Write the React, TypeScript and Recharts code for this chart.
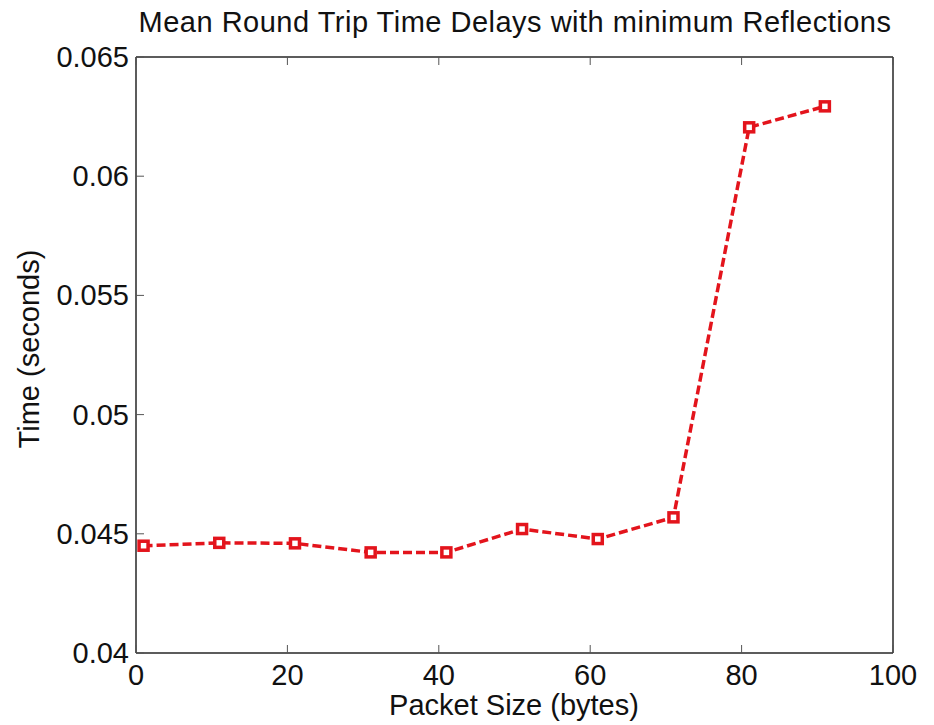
import React from 'react';
import { LineChart, Line, XAxis, YAxis } from 'recharts';

const packetSizes = [1, 11, 21, 31, 41, 51, 61, 71, 81, 91];
const meanDelays = [0.0445, 0.04462, 0.0446, 0.04422, 0.04422, 0.0452, 0.04478, 0.04569, 0.06205, 0.06293];
const xTicks = [0, 20, 40, 60, 80, 100];
const yTicks = [0.04, 0.045, 0.05, 0.055, 0.06, 0.065];
const yTickLabels = ['0.04', '0.045', '0.05', '0.055', '0.06', '0.065'];

const chartData = packetSizes.map((size, i) => ({ size, delay: meanDelays[i] }));

const FONT = '"Liberation Sans", Arial, sans-serif';
const RED = '#e3141c';
const AXIS = '#262626';
const TICK_LEN = 8;
const TICK_FONT = 29;

// MATLAB style: tick marks point into the plot box, labels sit outside
const BottomTick = (props: any) => {
  const { x, y, payload } = props;
  return (
    <g>
      <line x1={x} y1={y} x2={x} y2={y - TICK_LEN} stroke="#555" strokeWidth={1} />
      <text x={x} y={y + 22} textAnchor="middle" dominantBaseline="central" fontSize={TICK_FONT} fill="#111" fontFamily={FONT}>
        {payload.value}
      </text>
    </g>
  );
};

const TopTick = (props: any) => {
  const { x, y } = props;
  return <line x1={x} y1={y} x2={x} y2={y + TICK_LEN} stroke="#555" strokeWidth={1} />;
};

const LeftTick = (props: any) => {
  const { x, y, payload, index } = props;
  return (
    <g>
      <line x1={x} y1={y} x2={x + TICK_LEN} y2={y} stroke="#555" strokeWidth={1} />
      <text x={x - 7} y={y} textAnchor="end" dominantBaseline="central" fontSize={TICK_FONT} fill="#111" fontFamily={FONT}>
        {yTickLabels[index] ?? payload.value}
      </text>
    </g>
  );
};

const RightTick = (props: any) => {
  const { x, y } = props;
  return <line x1={x} y1={y} x2={x - TICK_LEN} y2={y} stroke="#555" strokeWidth={1} />;
};

const SquareDot = (props: any) => {
  const { cx, cy, index } = props;
  if (cx == null || cy == null) return null;
  return (
    <rect key={`dot-${index}`} x={cx - 4.5} y={cy - 4.5} width={9} height={9} fill="#fff" stroke={RED} strokeWidth={3.5} />
  );
};

const App: React.FC = () => {
  return (
    <div style={{ position: 'absolute', left: 0, top: 0, width: 934, height: 725, background: '#fff', fontFamily: FONT }}>
      <div style={{ position: 'absolute', left: 0, width: 1030, top: 6, textAlign: 'center', fontSize: 29, lineHeight: '32px', letterSpacing: 0.5, color: '#111' }}>
        Mean Round Trip Time Delays with minimum Reflections
      </div>
      <div style={{ position: 'absolute', left: 0, width: 1028, top: 689, textAlign: 'center', fontSize: 29, lineHeight: '32px', color: '#111' }}>
        Packet Size (bytes)
      </div>
      <div
        style={{
          position: 'absolute', left: 29, top: 349, width: 300, marginLeft: -150, marginTop: -16,
          textAlign: 'center', fontSize: 29, lineHeight: '32px', color: '#111', transform: 'rotate(-90deg)'
        }}
      >
        Time (seconds)
      </div>
      <LineChart
        width={934}
        height={725}
        data={chartData}
        margin={{ top: 47, right: 31, bottom: 62, left: 126 }}
      >
        <XAxis
          xAxisId="bottom"
          type="number"
          dataKey="size"
          domain={[0, 100]}
          ticks={xTicks}
          height={10}
          tickSize={0}
          tickMargin={0}
          interval={0}
          axisLine={{ stroke: AXIS, strokeWidth: 1.5 }}
          tickLine={false}
          tick={<BottomTick />}
        />
        <XAxis
          xAxisId="top"
          orientation="top"
          type="number"
          dataKey="size"
          domain={[0, 100]}
          ticks={xTicks}
          height={10}
          tickSize={0}
          tickMargin={0}
          interval={0}
          axisLine={{ stroke: AXIS, strokeWidth: 1.5 }}
          tickLine={false}
          tick={<TopTick />}
        />
        <YAxis
          yAxisId="left"
          type="number"
          domain={[0.04, 0.065]}
          ticks={yTicks}
          width={10}
          tickSize={0}
          tickMargin={0}
          interval={0}
          axisLine={{ stroke: AXIS, strokeWidth: 1.5 }}
          tickLine={false}
          tick={<LeftTick />}
        />
        <YAxis
          yAxisId="right"
          orientation="right"
          type="number"
          domain={[0.04, 0.065]}
          ticks={yTicks}
          width={10}
          tickSize={0}
          tickMargin={0}
          interval={0}
          axisLine={{ stroke: AXIS, strokeWidth: 1.5 }}
          tickLine={false}
          tick={<RightTick />}
        />
        <Line
          xAxisId="bottom"
          yAxisId="left"
          type="linear"
          dataKey="delay"
          stroke={RED}
          strokeWidth={3.5}
          strokeDasharray="9 4"
          dot={<SquareDot />}
          activeDot={false}
          isAnimationActive={false}
        />
      </LineChart>
    </div>
  );
};

export default App;
